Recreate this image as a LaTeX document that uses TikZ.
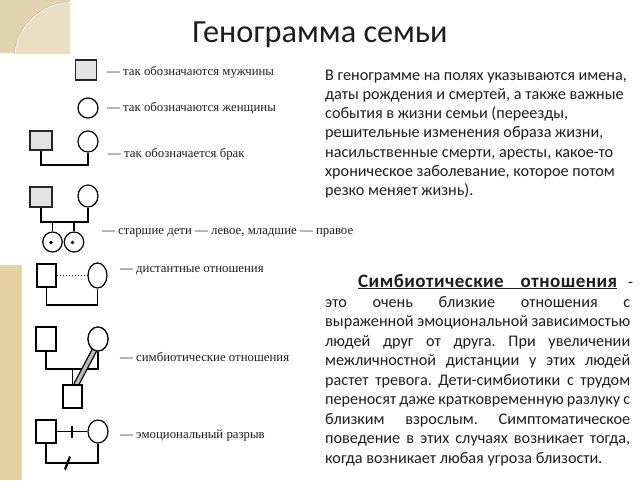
\documentclass[tikz,border=0pt]{standalone}
\usepackage{fontspec}
\setmainfont{Carlito}
\newfontfamily\legendfont{Liberation Serif}
\newfontfamily\headfont[LetterSpace=2.5]{Carlito}
\definecolor{beigeA}{HTML}{E2D3B0}
\definecolor{beigeB}{HTML}{E9DEC3}
\definecolor{beigeS}{HTML}{E4D0A2}
\definecolor{ink}{HTML}{1E1E1E}
\frenchspacing
\tikzset{
  mbox/.style={draw=black!85, line width=1.8pt, fill=gray!22, inner sep=0pt},
  fcirc/.style={draw=black, line width=1.2pt, fill=white, ellipse, inner sep=0pt},
  pbox/.style={draw=black, line width=1.2pt, fill=white, inner sep=0pt},
  conn/.style={draw=black, line width=1.2pt},
  legend/.style={font=\legendfont\fontsize{12.8}{14}\selectfont, text=ink, anchor=west, inner sep=0pt},
  para/.style={font=\fontsize{16.2}{18}\selectfont, text=ink, anchor=base west, inner sep=0pt},
}
\usetikzlibrary{shapes.geometric}
\begin{document}
\begin{tikzpicture}[x=1pt,y=-1pt]
\useasboundingbox (0,0) rectangle (640,480);
\fill[white] (0,0) rectangle (640,480);
% decoration
\begin{scope}
\clip (0,0) rectangle (70,53);
\fill[beigeA] (0,0) rectangle (70,53);
\fill[beigeB] (72,60) circle[radius=57.5];
\draw[white, line width=0.8pt, opacity=0.8] (72,60) circle[radius=57.5];
\draw[black!25, line width=0.4pt] (72,60) circle[radius=58.3];
\end{scope}
\fill[beigeS] (0,265) rectangle (22,480);

% title
\node[font=\fontsize{32.3}{36}\selectfont, text=ink, inner sep=0pt] (title) at (320,35) {Генограмма семьи};

% row 1: man
\node[mbox, minimum width=21pt, minimum height=20pt] (m1) at (86,70) {};
\node[legend] (t1) at (107,72) {— так обозначаются мужчины};
% row 2: woman
\node[fcirc, minimum width=20pt, minimum height=20pt] (f1) at (88,108) {};
\node[legend] (t2) at (107,108) {— так обозначаются женщины};
% row 3: marriage
\node[mbox, minimum width=22pt, minimum height=19pt] (m2) at (41,140.5) {};
\node[fcirc, minimum width=20pt, minimum height=21pt] (f2) at (88,141.5) {};
\draw[conn] (m2.south) -- (m2.south |- 0,165) -| (f2.south);
\node[legend] (t3) at (108,154) {— так обозначается брак};
% row 4: children
\node[mbox, minimum width=22pt, minimum height=20pt] (m3) at (41,197) {};
\node[fcirc, minimum width=20pt, minimum height=22pt] (f3) at (88,196) {};
\coordinate (h3) at (41,222);
\draw[conn] (m3.south) -- (h3) -| (f3.south);
\node[fcirc, minimum width=19.5pt, minimum height=20pt] (c1) at (52.5,242) {};
\node[fcirc, minimum width=19.5pt, minimum height=20pt] (c2) at (74,242) {};
\draw[conn] (c1.north) -- (c1.north |- h3);
\draw[conn] (c2.north) -- (c2.north |- h3);
\fill[black] (51,242.5) circle[radius=1.9];
\fill[black] (72.5,242.5) circle[radius=1.9];
\node[legend] (t4) at (102,233) {— старшие дети — левое, младшие — правое};
% row 5: distant
\node[pbox, minimum width=19pt, minimum height=23pt] (m5) at (46.5,275.5) {};
\node[fcirc, minimum width=19pt, minimum height=25pt] (f5) at (97.5,275.5) {};
\draw[conn, dash pattern=on 1.4pt off 1.6pt, line width=1.4pt] (m5.east) -- (f5.west);
\draw[conn] (m5.south) -- (m5.south |- 0,305) -| (f5.south);
\node[legend] (t5) at (120,271) {— дистантные отношения};
% row 6: symbiotic
\node[pbox, minimum width=20pt, minimum height=24pt] (m6) at (46,339) {};
\node[fcirc, minimum width=20pt, minimum height=24pt] (f6) at (98,339) {};
\coordinate (h6) at (72.5,369);
\draw[conn] (m6.south) -- (m6.south |- h6) -| (f6.south);
\node[pbox, minimum width=19pt, minimum height=23pt] (c6) at (72.5,396.5) {};
\draw[conn] (h6) -- (c6.north);
\coordinate (b1) at (95,349);
\coordinate (b2) at (76,385);
\draw[black, line width=6pt] (b1) -- (b2);
\draw[gray!55, line width=3.4pt] (b1) -- (b2);
\node[fcirc, minimum width=20pt, minimum height=24pt] (f6b) at (98,339) {};
\node[pbox, minimum width=19pt, minimum height=23pt] (c6b) at (72.5,396.5) {};
\node[legend] (t6) at (120,357) {— симбиотические отношения};
% row 7: cutoff
\node[pbox, minimum width=20pt, minimum height=23pt] (m7) at (46,431.5) {};
\node[fcirc, minimum width=20pt, minimum height=23pt] (f7) at (98,431.5) {};
\draw[conn] (m7.east) -- (f7.west);
\draw[conn] (m7.south) -- (m7.south |- 0,463) -| (f7.south);
\draw[black, line width=2.6pt] (72,425.5) -- (72,437.5);
\draw[black, line width=2.2pt] (65,469.5) -- (70,456.5);
\node[legend] (t7) at (120,435) {— эмоциональный разрыв};

% paragraph 1
\node[para] (pa1) at (325,80) {В генограмме на полях указываются имена,};
\node[para] (pa2) at (325,99.3) {даты рождения и смертей, а также важные};
\node[para] (pa3) at (325,118.6) {события в жизни семьи (переезды,};
\node[para] (pa4) at (325,137.9) {решительные изменения образа жизни,};
\node[para] (pa5) at (325,157.2) {насильственные смерти, аресты, какое-то};
\node[para] (pa6) at (325,176.5) {хроническое заболевание, которое потом};
\node[para] (pa7) at (325,195.8) {резко меняет жизнь).};

% paragraph 2
\node[para, font=\headfont\bfseries\fontsize{19}{20}\selectfont] (pbt) at (358,287) {\underline{\makebox[259pt][s]{Симбиотические отношения}}};
\node[para] (pbd) at (628,287) {-};
\node[para] (pb1) at (325,307) {\makebox[305pt][s]{это очень близкие отношения с}};
\node[para] (pb2) at (325,326.5) {\makebox[305pt][s]{выраженной эмоциональной зависимостью}};
\node[para] (pb3) at (325,346) {\makebox[305pt][s]{людей друг от друга. При увеличении}};
\node[para] (pb4) at (325,365.5) {\makebox[305pt][s]{межличностной дистанции у этих людей}};
\node[para] (pb5) at (325,385) {\makebox[305pt][s]{растет тревога. Дети-симбиотики с трудом}};
\node[para] (pb6) at (325,404.5) {\makebox[305pt][s]{переносят даже кратковременную разлуку с}};
\node[para] (pb7) at (325,424) {\makebox[305pt][s]{близким взрослым. Симптоматическое}};
\node[para] (pb8) at (325,443.5) {\makebox[305pt][s]{поведение в этих случаях возникает тогда,}};
\node[para] (pb9) at (325,463) {когда возникает любая угроза близости.};
\end{tikzpicture}
\end{document}
